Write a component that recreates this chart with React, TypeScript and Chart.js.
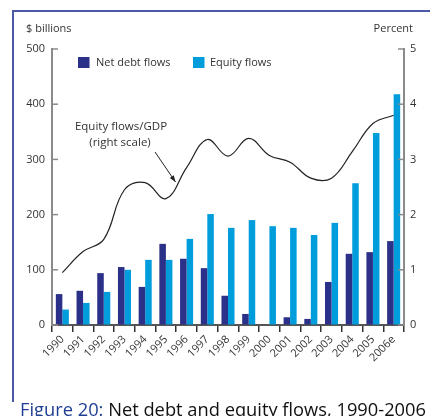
import React, { useEffect, useRef } from 'react';
import { Chart, registerables } from 'chart.js';

Chart.register(...registerables);

const years = ['1990', '1991', '1992', '1993', '1994', '1995', '1996', '1997', '1998', '1999', '2000', '2001', '2002', '2003', '2004', '2005', '2006e'];
const netDebtFlows = [56, 62, 94, 105, 69, 147, 120, 103, 53, 20, 0, 14, 11, 78, 129, 132, 152];
const equityFlows = [28, 40, 60, 100, 118, 118, 156, 201, 176, 190, 179, 176, 163, 185, 257, 348, 418];
const equityToGdp = [0.95, 1.33, 1.55, 2.45, 2.58, 2.29, 2.85, 3.36, 3.06, 3.38, 3.07, 2.95, 2.66, 2.66, 3.14, 3.65, 3.8];
const leftTicks = [0, 100, 200, 300, 400, 500];
const rightTicks = [0, 1, 2, 3, 4, 5];

const FONT = '"Open Sans", "Noto Sans", sans-serif';
const DARK = '#2b3088';
const LIGHT = '#009ddc';
const AXIS_GRAY = '#8a8a8a';
const TEXT = '#333333';

const decorPlugin = {
  id: 'decor',
  afterDraw(chart: any) {
    const ctx = chart.ctx;
    const area = chart.chartArea;
    const yL = chart.scales.y;
    const yR = chart.scales.y1;
    ctx.save();
    // inner ticks
    ctx.strokeStyle = AXIS_GRAY;
    ctx.lineWidth = 1.5;
    leftTicks.forEach((v) => {
      const p = yL.getPixelForValue(v);
      ctx.beginPath();
      ctx.moveTo(area.left, p);
      ctx.lineTo(area.left + 6, p);
      ctx.stroke();
    });
    rightTicks.forEach((v) => {
      const p = yR.getPixelForValue(v);
      ctx.beginPath();
      ctx.moveTo(area.right, p);
      ctx.lineTo(area.right - 6, p);
      ctx.stroke();
    });
    // axis titles
    ctx.fillStyle = TEXT;
    ctx.font = `11px ${FONT}`;
    ctx.textBaseline = 'middle';
    ctx.textAlign = 'left';
    ctx.fillText('$ billions', 26, 29);
    ctx.textAlign = 'right';
    ctx.fillText('Percent', 413, 29);
    // legend
    ctx.textAlign = 'left';
    ctx.fillStyle = DARK;
    ctx.fillRect(78, 57, 11.5, 11);
    ctx.fillStyle = LIGHT;
    ctx.fillRect(193, 57, 11.5, 11);
    ctx.fillStyle = TEXT;
    ctx.font = `11px ${FONT}`;
    ctx.fillText('Net debt flows', 96, 62.5);
    ctx.fillText('Equity flows', 210, 62.5);
    // annotation
    ctx.font = `11.5px ${FONT}`;
    ctx.textAlign = 'center';
    ctx.fillText('Equity flows/GDP', 121, 126.5);
    ctx.fillText('(right scale)', 120, 142.5);
    // arrow
    const x1 = 155, y1 = 152, x2 = 175.5, y2 = 182;
    ctx.strokeStyle = '#222';
    ctx.lineWidth = 1;
    ctx.beginPath();
    ctx.moveTo(x1, y1);
    ctx.lineTo(x2, y2);
    ctx.stroke();
    const ang = Math.atan2(y2 - y1, x2 - x1);
    const len = 7;
    ctx.fillStyle = '#222';
    ctx.beginPath();
    ctx.moveTo(x2, y2);
    ctx.lineTo(x2 - len * Math.cos(ang - 0.35), y2 - len * Math.sin(ang - 0.35));
    ctx.lineTo(x2 - len * Math.cos(ang + 0.35), y2 - len * Math.sin(ang + 0.35));
    ctx.closePath();
    ctx.fill();
    ctx.restore();
  },
};

export default function App() {
  const ref = useRef<HTMLCanvasElement | null>(null);

  useEffect(() => {
    document.body.style.margin = '0';
    const canvas = ref.current;
    if (!canvas) return;
    const chart = new Chart(canvas, {
      type: 'bar',
      data: {
        labels: years,
        datasets: [
          {
            type: 'line',
            label: 'Equity flows/GDP',
            data: equityToGdp,
            yAxisID: 'y1',
            borderColor: '#222',
            borderWidth: 1.2,
            pointRadius: 0,
            tension: 0.4,
            fill: false,
            order: 0,
          } as any,
          {
            label: 'Net debt flows',
            data: netDebtFlows,
            backgroundColor: DARK,
            yAxisID: 'y',
            categoryPercentage: 0.63,
            barPercentage: 1.0,
            order: 1,
          },
          {
            label: 'Equity flows',
            data: equityFlows,
            backgroundColor: LIGHT,
            yAxisID: 'y',
            categoryPercentage: 0.63,
            barPercentage: 1.0,
            order: 1,
          },
        ],
      },
      options: {
        responsive: false,
        animation: false,
        devicePixelRatio: 1,
        layout: { padding: { top: 49, left: 0, right: 0, bottom: 0 } },
        plugins: {
          legend: { display: false },
          tooltip: { enabled: false },
        },
        scales: {
          x: {
            grid: {
              offset: true,
              drawOnChartArea: false,
              drawTicks: true,
              tickLength: 7,
              color: '#333',
              lineWidth: 1.5,
            },
            border: { display: true, color: '#555', width: 2 },
            ticks: {
              minRotation: 45,
              maxRotation: 45,
              autoSkip: false,
              padding: 1,
              color: TEXT,
              font: { size: 11, family: FONT },
            },
            afterFit: (s: any) => {
              s.height = 91;
            },
          },
          y: {
            position: 'left',
            min: 0,
            max: 500,
            ticks: {
              stepSize: 100,
              padding: 7,
              color: TEXT,
              font: { size: 11, family: FONT },
            },
            grid: { drawOnChartArea: false, drawTicks: false },
            border: { display: true, color: AXIS_GRAY, width: 2 },
            afterFit: (s: any) => {
              s.width = 52;
            },
          },
          y1: {
            position: 'right',
            min: 0,
            max: 5,
            ticks: {
              stepSize: 1,
              padding: 6,
              color: TEXT,
              font: { size: 11, family: FONT },
            },
            grid: { drawOnChartArea: false, drawTicks: false },
            border: { display: true, color: AXIS_GRAY, width: 2 },
            afterFit: (s: any) => {
              s.width = 26;
            },
          },
        },
      } as any,
      plugins: [decorPlugin],
    });
    return () => chart.destroy();
  }, []);

  return (
    <div
      style={{
        position: 'fixed',
        left: 0,
        top: 0,
        width: 430,
        height: 416,
        overflow: 'hidden',
        background: '#fff',
      }}
    >
      <div
        style={{
          position: 'absolute',
          left: 12,
          top: 10,
          width: 418,
          height: 1.5,
          background: '#4a5aa8',
        }}
      />
      <div
        style={{
          position: 'absolute',
          left: 12,
          top: 10,
          width: 1.5,
          height: 392,
          background: '#4a5aa8',
        }}
      />
      <canvas
        ref={ref}
        width={430}
        height={416}
        style={{ position: 'absolute', left: 0, top: 0, width: 430, height: 416 }}
      />
      <div
        style={{
          position: 'absolute',
          left: 20,
          top: 400,
          whiteSpace: 'nowrap',
          fontFamily: FONT,
          fontSize: 18.3,
          lineHeight: '18px',
          color: '#111',
        }}
      >
        <span style={{ color: '#1f3f94' }}>Figure 20:</span> Net debt and equity flows, 1990-2006
      </div>
    </div>
  );
}
